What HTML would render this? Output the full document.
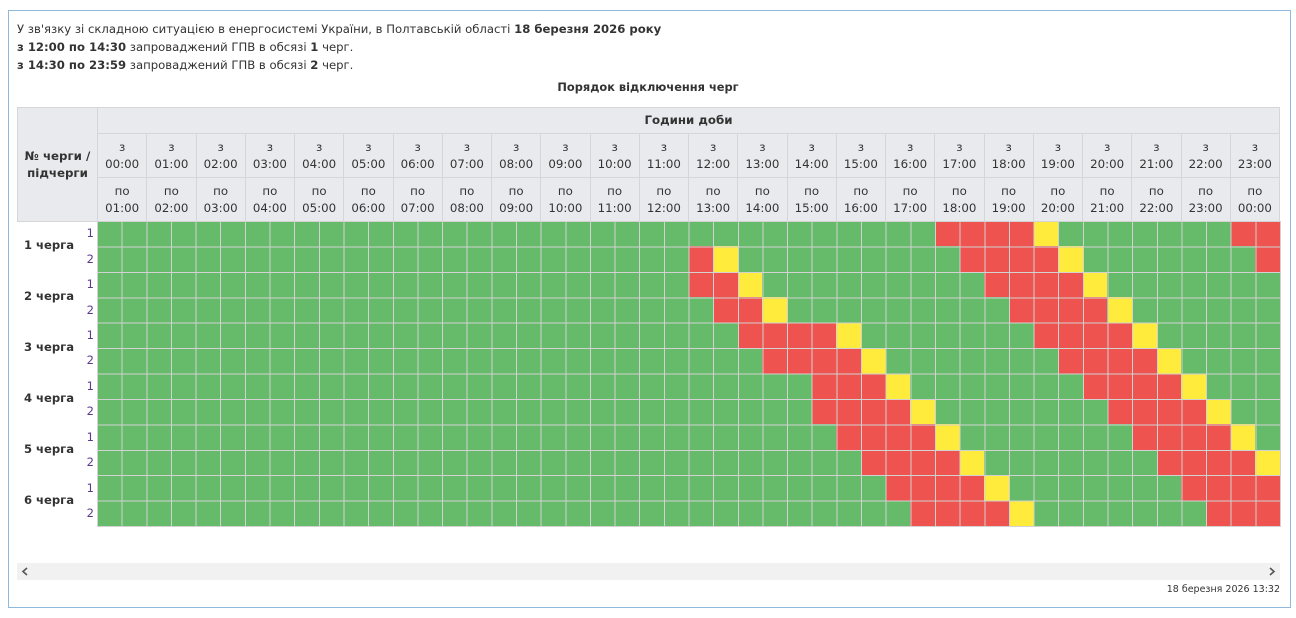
<!DOCTYPE html>
<html><head><meta charset="utf-8"><style>
*{box-sizing:border-box;margin:0;padding:0}
body{width:1296px;height:618px;background:#fff;font-family:"DejaVu Sans","Liberation Sans",sans-serif;color:#333;position:relative;overflow:hidden}
.frame{position:absolute;left:8px;top:10px;width:1283px;height:598px;border:1px solid #8fb9dc}
.t{position:absolute;left:17px;font-size:11.65px;line-height:18px;color:#333}
.title{position:absolute;left:0;width:1296px;top:80px;text-align:center;font-weight:bold;font-size:11.4px}
table.h{position:absolute;left:17px;top:107px;width:1263px;border-collapse:collapse;table-layout:fixed;background:#e9eaee;font-size:11.8px;color:#333}
table.h td{border:1px solid #d6d6da;text-align:center;line-height:17px;padding:0}
.grid{position:absolute;left:97px;top:221px;width:1183px;height:305px;background:#66bb6a}
.grid div{position:absolute;height:25.42px}
.ov{position:absolute;left:97px;top:221px;width:1184px;height:306px;
background:repeating-linear-gradient(to right,#d2d2d2 0 1px,transparent 1px 24.646px),repeating-linear-gradient(to bottom,#d2d2d2 0 1px,transparent 1px 25.42px)}
.lab{position:absolute;left:17px;width:64px;text-align:center;font-weight:bold;font-size:11.6px}
.sub{position:absolute;left:82px;width:12px;text-align:right;font-size:11.5px;color:#5b3a8c}
.sb{position:absolute;left:17px;top:563px;width:1263px;height:17px;background:#f1f1f1}
.ts{position:absolute;right:16px;top:584px;font-size:9.5px;color:#333}
</style></head><body>
<div class="frame"></div>
<div class="t" style="top:20px">У зв'язку зі складною ситуацією в енергосистемі України, в Полтавській області <b>18 березня 2026 року</b></div>
<div class="t" style="top:38px"><b>з 12:00 по 14:30</b> запроваджений ГПВ в обсязі <b>1</b> черг.</div>
<div class="t" style="top:56px"><b>з 14:30 по 23:59</b> запроваджений ГПВ в обсязі <b>2</b> черг.</div>
<div class="title">Порядок відключення черг</div>
<table class="h">
<colgroup><col style="width:80px"><col span="24"></colgroup>
<tr style="height:26px"><td rowspan="3" style="font-weight:bold">№ черги /<br>підчерги</td><td colspan="24" style="font-weight:bold">Години доби</td></tr>
<tr style="height:44px"><td>з<br>00:00</td><td>з<br>01:00</td><td>з<br>02:00</td><td>з<br>03:00</td><td>з<br>04:00</td><td>з<br>05:00</td><td>з<br>06:00</td><td>з<br>07:00</td><td>з<br>08:00</td><td>з<br>09:00</td><td>з<br>10:00</td><td>з<br>11:00</td><td>з<br>12:00</td><td>з<br>13:00</td><td>з<br>14:00</td><td>з<br>15:00</td><td>з<br>16:00</td><td>з<br>17:00</td><td>з<br>18:00</td><td>з<br>19:00</td><td>з<br>20:00</td><td>з<br>21:00</td><td>з<br>22:00</td><td>з<br>23:00</td></tr>
<tr style="height:44px"><td>по<br>01:00</td><td>по<br>02:00</td><td>по<br>03:00</td><td>по<br>04:00</td><td>по<br>05:00</td><td>по<br>06:00</td><td>по<br>07:00</td><td>по<br>08:00</td><td>по<br>09:00</td><td>по<br>10:00</td><td>по<br>11:00</td><td>по<br>12:00</td><td>по<br>13:00</td><td>по<br>14:00</td><td>по<br>15:00</td><td>по<br>16:00</td><td>по<br>17:00</td><td>по<br>18:00</td><td>по<br>19:00</td><td>по<br>20:00</td><td>по<br>21:00</td><td>по<br>22:00</td><td>по<br>23:00</td><td>по<br>00:00</td></tr>
</table>
<div class="grid">
<div style="top:0;left:838px;width:98.6px;background:#ef5350"></div><div style="top:0;left:936.5px;width:24.7px;background:#ffeb3b"></div><div style="top:0;left:1133.7px;width:49.3px;background:#ef5350"></div>
<div style="top:25.42px;left:591.5px;width:24.7px;background:#ef5350"></div><div style="top:25.42px;left:616.2px;width:24.7px;background:#ffeb3b"></div><div style="top:25.42px;left:862.6px;width:98.6px;background:#ef5350"></div><div style="top:25.42px;left:961.2px;width:24.7px;background:#ffeb3b"></div><div style="top:25.42px;left:1158.4px;width:24.7px;background:#ef5350"></div>
<div style="top:50.84px;left:591.5px;width:49.3px;background:#ef5350"></div><div style="top:50.84px;left:640.8px;width:24.7px;background:#ffeb3b"></div><div style="top:50.84px;left:887.3px;width:98.6px;background:#ef5350"></div><div style="top:50.84px;left:985.8px;width:24.7px;background:#ffeb3b"></div>
<div style="top:76.26px;left:616.2px;width:49.3px;background:#ef5350"></div><div style="top:76.26px;left:665.4px;width:24.7px;background:#ffeb3b"></div><div style="top:76.26px;left:911.9px;width:98.6px;background:#ef5350"></div><div style="top:76.26px;left:1010.5px;width:24.7px;background:#ffeb3b"></div>
<div style="top:101.68px;left:640.8px;width:98.6px;background:#ef5350"></div><div style="top:101.68px;left:739.4px;width:24.7px;background:#ffeb3b"></div><div style="top:101.68px;left:936.5px;width:98.6px;background:#ef5350"></div><div style="top:101.68px;left:1035.1px;width:24.7px;background:#ffeb3b"></div>
<div style="top:127.1px;left:665.4px;width:98.6px;background:#ef5350"></div><div style="top:127.1px;left:764px;width:24.7px;background:#ffeb3b"></div><div style="top:127.1px;left:961.2px;width:98.6px;background:#ef5350"></div><div style="top:127.1px;left:1059.8px;width:24.7px;background:#ffeb3b"></div>
<div style="top:152.52px;left:714.7px;width:74px;background:#ef5350"></div><div style="top:152.52px;left:788.7px;width:24.7px;background:#ffeb3b"></div><div style="top:152.52px;left:985.8px;width:98.6px;background:#ef5350"></div><div style="top:152.52px;left:1084.4px;width:24.7px;background:#ffeb3b"></div>
<div style="top:177.94px;left:714.7px;width:98.6px;background:#ef5350"></div><div style="top:177.94px;left:813.3px;width:24.7px;background:#ffeb3b"></div><div style="top:177.94px;left:1010.5px;width:98.6px;background:#ef5350"></div><div style="top:177.94px;left:1109.1px;width:24.7px;background:#ffeb3b"></div>
<div style="top:203.36px;left:739.4px;width:98.6px;background:#ef5350"></div><div style="top:203.36px;left:838px;width:24.7px;background:#ffeb3b"></div><div style="top:203.36px;left:1035.1px;width:98.6px;background:#ef5350"></div><div style="top:203.36px;left:1133.7px;width:24.7px;background:#ffeb3b"></div>
<div style="top:228.78px;left:764px;width:98.6px;background:#ef5350"></div><div style="top:228.78px;left:862.6px;width:24.7px;background:#ffeb3b"></div><div style="top:228.78px;left:1059.8px;width:98.6px;background:#ef5350"></div><div style="top:228.78px;left:1158.4px;width:24.7px;background:#ffeb3b"></div>
<div style="top:254.2px;left:788.7px;width:98.6px;background:#ef5350"></div><div style="top:254.2px;left:887.3px;width:24.7px;background:#ffeb3b"></div><div style="top:254.2px;left:1084.4px;width:98.6px;background:#ef5350"></div>
<div style="top:279.62px;left:813.3px;width:98.6px;background:#ef5350"></div><div style="top:279.62px;left:911.9px;width:24.7px;background:#ffeb3b"></div><div style="top:279.62px;left:1109.1px;width:74px;background:#ef5350"></div>
</div>
<div class="ov"></div>
<div class="lab" style="top:238px">1 черга</div>
<div class="lab" style="top:289px">2 черга</div>
<div class="lab" style="top:340px">3 черга</div>
<div class="lab" style="top:391px">4 черга</div>
<div class="lab" style="top:442px">5 черга</div>
<div class="lab" style="top:493px">6 черга</div>
<div class="sub" style="top:226px">1</div><div class="sub" style="top:252px">2</div>
<div class="sub" style="top:277px">1</div><div class="sub" style="top:303px">2</div>
<div class="sub" style="top:328px">1</div><div class="sub" style="top:353px">2</div>
<div class="sub" style="top:379px">1</div><div class="sub" style="top:404px">2</div>
<div class="sub" style="top:430px">1</div><div class="sub" style="top:455px">2</div>
<div class="sub" style="top:481px">1</div><div class="sub" style="top:506px">2</div>
<div class="sb"></div>
<svg style="position:absolute;left:20px;top:566px" width="10" height="11"><path d="M7 2 L3 5.5 L7 9" stroke="#555" stroke-width="1.6" fill="none"/></svg>
<svg style="position:absolute;left:1267px;top:566px" width="10" height="11"><path d="M3 2 L7 5.5 L3 9" stroke="#555" stroke-width="1.6" fill="none"/></svg>
<div class="ts">18 березня 2026 13:32</div>
</body></html>
